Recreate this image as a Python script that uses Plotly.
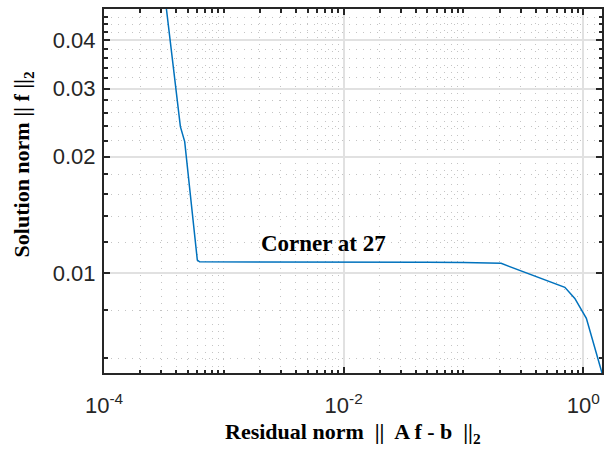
import plotly.graph_objects as go
import math

# L-curve: residual norm vs. solution norm for a sweep of regularization parameters
residual_norm = [3.105e-4, 4.34e-4, 4.714e-4, 6.01e-4, 6.28e-4, 2.0e-3, 1.0e-2,
                 5.0e-2, 1.0e-1, 2.062e-1, 7.018e-1, 8.50e-1, 1.061, 1.433]
solution_norm = [0.05746, 0.02392, 0.02187, 0.01079, 0.01068, 0.01068, 0.01067,
                 0.01065, 0.01063, 0.01058, 0.00917, 0.00858, 0.00762, 0.0055]

# axis limits
x_lim = [1e-4, 1.433]
y_lim = [0.0055, 0.04826]

# tick positions and labels
x_major = [1e-4, 1e-2, 1e0]
x_major_text = ["10<sup>-4</sup>", "10<sup>-2</sup>", "10<sup>0</sup>"]
x_minor = [2e-4, 3e-4, 4e-4, 5e-4, 6e-4, 7e-4, 8e-4, 9e-4,
           1e-3, 2e-3, 3e-3, 4e-3, 5e-3, 6e-3, 7e-3, 8e-3, 9e-3,
           2e-2, 3e-2, 4e-2, 5e-2, 6e-2, 7e-2, 8e-2, 9e-2,
           1e-1, 2e-1, 3e-1, 4e-1, 5e-1, 6e-1, 7e-1, 8e-1, 9e-1]
y_major = [0.01, 0.02, 0.03, 0.04]
y_major_text = ["0.01", "0.02", "0.03", "0.04"]
y_minor = [0.006, 0.008, 0.012, 0.014, 0.016, 0.018, 0.022, 0.024, 0.026, 0.028,
           0.032, 0.034, 0.036, 0.038, 0.042, 0.044, 0.046, 0.048]

corner_label = "Corner at 27"
corner_pos = (0.00675, 0.01194)

AXIS_COLOR = "#262626"
TICK_FONT = dict(family="Liberation Sans, Arial, sans-serif", size=22, color=AXIS_COLOR)
LABEL_FONT = dict(family="Liberation Serif, Times New Roman, serif", size=22, color="#000000")

fig = go.Figure()
fig.add_trace(go.Scatter(
    x=residual_norm, y=solution_norm, mode="lines",
    line=dict(color="#0072BD", width=1.5), showlegend=False,
))

common = dict(
    showline=True, linecolor=AXIS_COLOR, linewidth=2, mirror="allticks",
    ticks="inside", ticklen=6, tickwidth=1.5, tickcolor=AXIS_COLOR,
    showgrid=True, gridcolor="#e1e1e1", gridwidth=1.5,
    zeroline=False, tickfont=TICK_FONT, tickmode="array",
)
minor = dict(ticks="inside", ticklen=3.5, tickwidth=1.5, tickcolor=AXIS_COLOR,
             showgrid=True, gridcolor="#c4c4c4", gridwidth=1, griddash="1px,6px")

fig.update_xaxes(type="log", range=[math.log10(v) for v in x_lim],
                 tickvals=x_major, ticktext=x_major_text, ticklabelstandoff=12,
                 minor=dict(tickvals=x_minor, **minor), **common)
fig.update_yaxes(type="log", range=[math.log10(v) for v in y_lim],
                 tickvals=y_major, ticktext=y_major_text, ticklabelstandoff=2,
                 minor=dict(tickvals=y_minor, **minor), **common)

fig.add_annotation(x=math.log10(corner_pos[0]), y=math.log10(corner_pos[1]),
                   xref="x", yref="y", text="<b>" + corner_label + "</b>",
                   showarrow=False, font=dict(LABEL_FONT, size=23),
                   xanchor="center", yanchor="middle")

# axis titles
fig.add_annotation(x=0.501, y=-0.165, xref="paper", yref="paper",
                   text="<b>Residual norm  ||  A f - b  ||<sub>2</sub></b>",
                   showarrow=False, font=LABEL_FONT, xanchor="center", yanchor="middle")
fig.add_annotation(x=-0.162, y=0.574, xref="paper", yref="paper",
                   text="<b>Solution norm || f ||<sub>2</sub></b>", textangle=-90,
                   showarrow=False, font=LABEL_FONT, xanchor="center", yanchor="middle")

fig.update_layout(
    width=605, height=456,
    margin=dict(l=104, r=1, t=9, b=83),
    paper_bgcolor="white", plot_bgcolor="white",
)

fig.write_html("out.html")
